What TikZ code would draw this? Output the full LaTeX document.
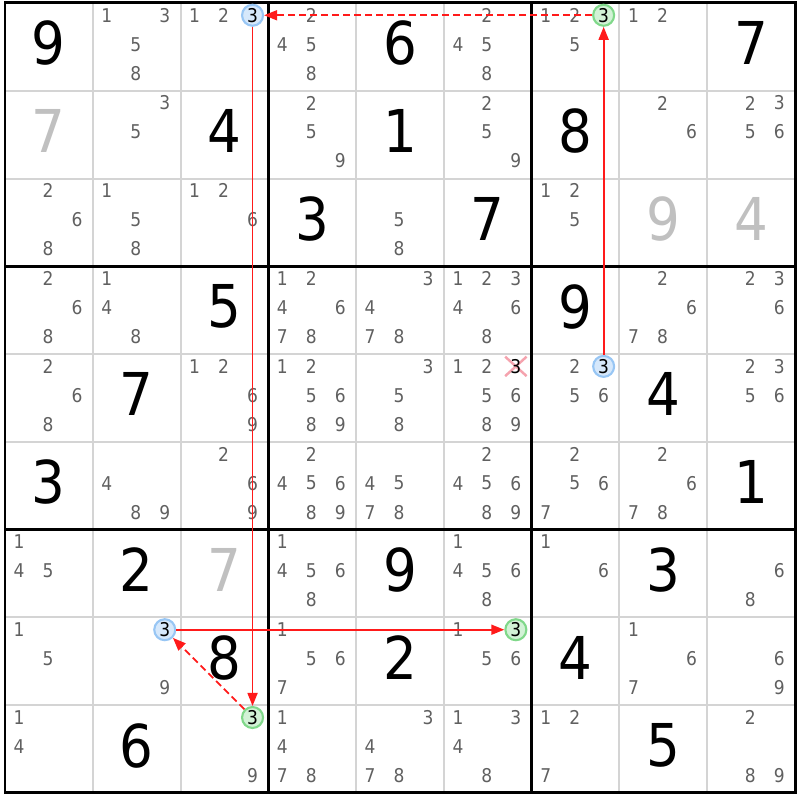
\documentclass[tikz,border=0pt]{standalone}
\usepackage{fontspec}
\setmainfont{DejaVu Sans Condensed}
\usetikzlibrary{arrows.meta, shapes.misc}

\definecolor{candgray}{HTML}{606060}
\definecolor{givengray}{HTML}{C0C0C0}
\definecolor{gridgray}{HTML}{D4D4D4}
\definecolor{linkred}{HTML}{FF1A1A}
\definecolor{onfill}{HTML}{D6E8FB}
\definecolor{ondraw}{HTML}{98C6F4}
\definecolor{offfill}{HTML}{D2F2D6}
\definecolor{offdraw}{HTML}{80D88A}
\definecolor{crossred}{HTML}{F5A3AE}

\tikzset{
    cand/.style={text=candgray, font=\fontsize{5.4}{6}\selectfont, inner sep=0pt},
    given/.style={font=\fontsize{16.8}{20}\selectfont, inner sep=0pt},
    solved/.style={given, text=givengray},
    oncand/.style={cand, text=black, circle, draw=ondraw, fill=onfill, line width=0.6pt, minimum size=2.1mm},
    offcand/.style={oncand, draw=offdraw, fill=offfill},
    thinline/.style={draw=gridgray, line width=0.55pt},
    boxline/.style={draw=black, line width=0.85pt},
    link/.style={draw=linkred, line width=0.5pt, -{Triangle[length=1.3mm, width=1mm]}},
    weak/.style={link, dash pattern=on 0.7mm off 0.4mm},
    struck/.style={cross out, draw=crossred, line width=0.7pt, minimum width=1.9mm, minimum height=1.7mm, inner sep=0pt},
}

% candidates of cell (#1,#2): digit k sits in the k-th ninth of the cell
\newcommand{\cands}[3]{%
    \edef\candlist{#3}%
    \foreach \dig in \candlist {%
        \pgfmathsetmacro{\dx}{#2-1+0.16+0.33*mod(\dig-1,3)}%
        \pgfmathsetmacro{\dy}{-(#1-1)-0.14-0.33*floor((\dig-1)/3)}%
        \node[cand] (n#1#2\dig) at (\dx,\dy) {\dig};
    }%
}

\begin{document}
\begin{tikzpicture}[x=0.8778cm, y=0.8778cm]
    \useasboundingbox (-0.057,0.034) rectangle (9.057,-9.080);

    % grid
    \foreach \i in {1,2,4,5,7,8}{
        \draw[thinline] (\i,0) -- (\i,-9);
        \draw[thinline] (0,-\i) -- (9,-\i);
    }
    \foreach \i in {3,6}{
        \draw[boxline] (\i,0) -- (\i,-9);
        \draw[boxline] (0,-\i) -- (9,-\i);
    }
    \draw[boxline] (0,0) rectangle (9,-9);

    % givens
    \foreach \r/\c/\v in {1/1/9, 1/5/6, 1/9/7, 2/3/4, 2/5/1, 2/7/8, 3/4/3, 3/6/7,
                          4/3/5, 4/7/9, 5/2/7, 5/8/4, 6/1/3, 6/9/1,
                          7/2/2, 7/5/9, 7/8/3, 8/3/8, 8/5/2, 8/7/4, 9/2/6, 9/8/5}{
        \node[given] (g\r\c) at (\c-0.5,-\r+0.54) {\v};
    }
    \foreach \r/\c/\v in {2/1/7, 3/8/9, 3/9/4, 7/3/7}{
        \node[solved] (g\r\c) at (\c-0.5,-\r+0.54) {\v};
    }

    % pencil marks
    \foreach \r/\c/\list in {1/2/{1,3,5,8}, 1/3/{1,2}, 1/4/{2,4,5,8}, 1/6/{2,4,5,8}, 1/7/{1,2,5}, 1/8/{1,2},
                             2/2/{3,5}, 2/4/{2,5,9}, 2/6/{2,5,9}, 2/8/{2,6}, 2/9/{2,3,5,6},
                             3/1/{2,6,8}, 3/2/{1,5,8}, 3/3/{1,2,6}, 3/5/{5,8}, 3/7/{1,2,5},
                             4/1/{2,6,8}, 4/2/{1,4,8}, 4/4/{1,2,4,6,7,8}, 4/5/{3,4,7,8}, 4/6/{1,2,3,4,6,8}, 4/8/{2,6,7,8}, 4/9/{2,3,6},
                             5/1/{2,6,8}, 5/3/{1,2,6,9}, 5/4/{1,2,5,6,8,9}, 5/5/{3,5,8}, 5/6/{1,2,5,6,8,9}, 5/7/{2,5,6}, 5/9/{2,3,5,6},
                             6/2/{4,8,9}, 6/3/{2,6,9}, 6/4/{2,4,5,6,8,9}, 6/5/{4,5,7,8}, 6/6/{2,4,5,6,8,9}, 6/7/{2,5,6,7}, 6/8/{2,6,7,8},
                             7/1/{1,4,5}, 7/4/{1,4,5,6,8}, 7/6/{1,4,5,6,8}, 7/7/{1,6}, 7/9/{6,8},
                             8/1/{1,5}, 8/2/{9}, 8/4/{1,5,6,7}, 8/6/{1,5,6}, 8/8/{1,6,7}, 8/9/{6,9},
                             9/1/{1,4}, 9/3/{9}, 9/4/{1,4,7,8}, 9/5/{3,4,7,8}, 9/6/{1,3,4,8}, 9/7/{1,2,7}, 9/9/{2,8,9}}{
        \cands{\r}{\c}{\list}
    }

    % the chain on 3
    \node[oncand]  (on13)  at (2.82,-0.14) {3};
    \node[offcand] (off17) at (6.82,-0.14) {3};
    \node[oncand]  (on57)  at (6.82,-4.14) {3};
    \node[oncand]  (on82)  at (1.82,-7.14) {3};
    \node[offcand] (off86) at (5.82,-7.14) {3};
    \node[offcand] (off93) at (2.82,-8.14) {3};

    % eliminated 3, pink cross under the digit
    \node[struck] (x56cross) at (5.82,-4.14) {};
    \node[cand, text=black] (x56) at (x56cross) {3};

    \draw[link] (on13) -- (off93);
    \draw[weak] (off93) -- (on82);
    \draw[link] (on82) -- (off86);
    \draw[link] (on57) -- (off17);
    \draw[weak] (off17) -- (on13);
\end{tikzpicture}
\end{document}
